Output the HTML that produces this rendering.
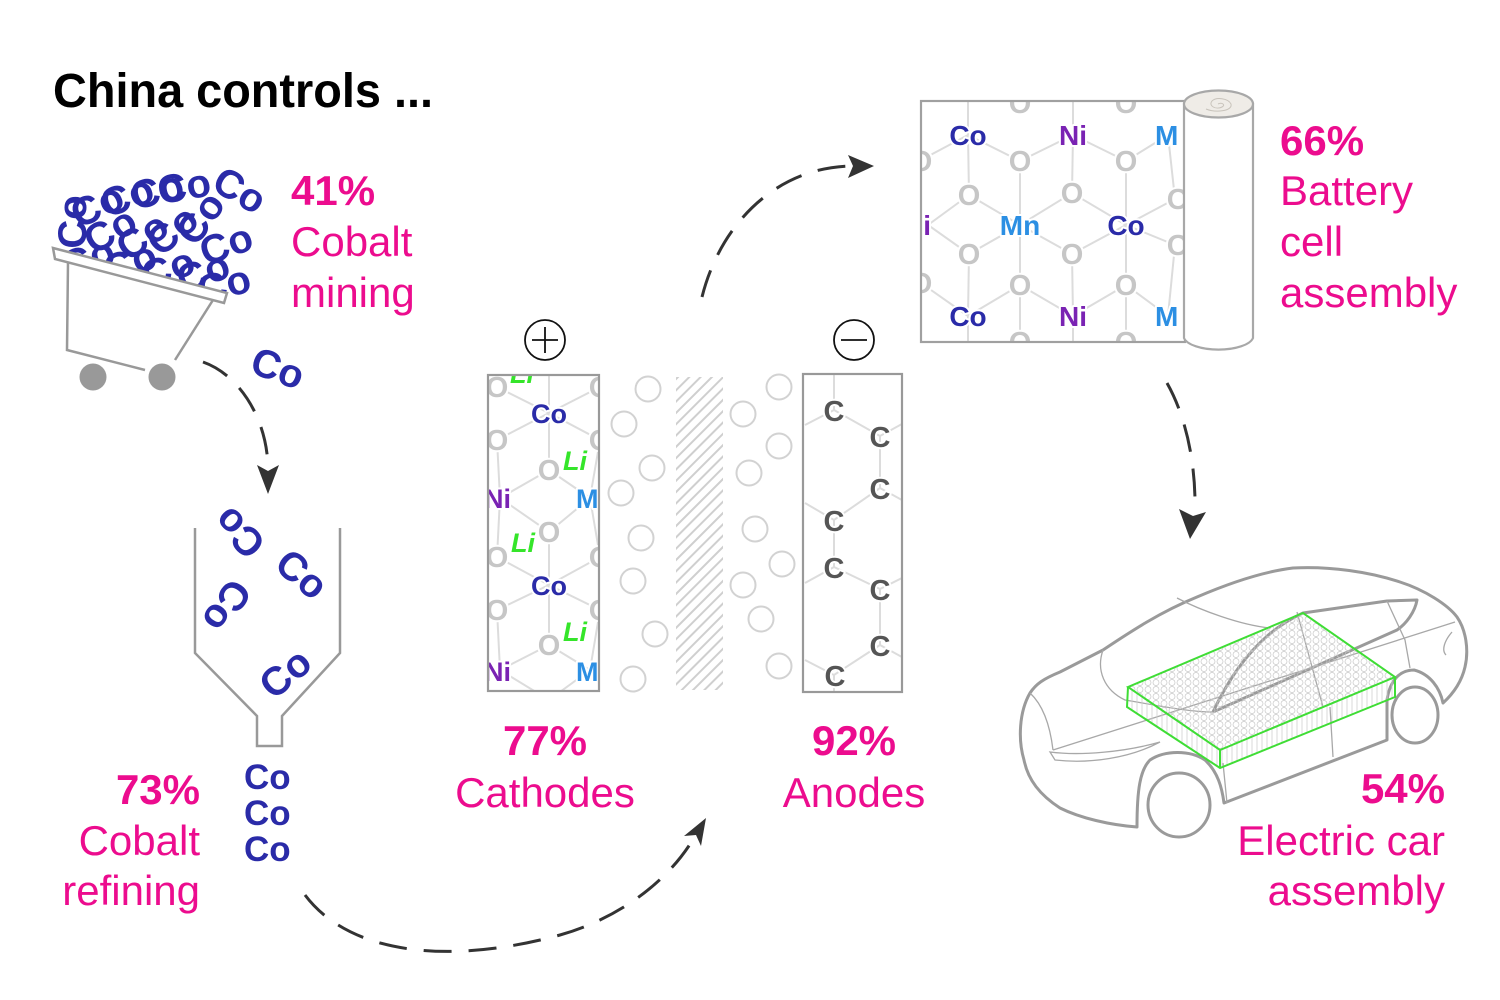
<!DOCTYPE html>
<html><head><meta charset="utf-8"><style>
html,body{margin:0;padding:0;background:#fff;}
svg{display:block;}
text{font-family:"Liberation Sans",sans-serif;}
.co{font-weight:bold;fill:#2a2ba8;font-size:35px;}
.cl{font-weight:bold;fill:#2a2ba8;font-size:40px;}
.lab{fill:#ec0c8e;font-size:42px;}
.pct{fill:#ec0c8e;font-size:42px;font-weight:bold;}
.lt{font-weight:bold;font-size:27px;stroke:#fff;stroke-width:4px;paint-order:stroke;stroke-linejoin:round;}
.o{fill:#c6c6c6;font-size:29px;}
.cB{fill:#2a2ba8;}
.ni{fill:#7a23b3;}
.mn{fill:#2c8fe3;}
.li{fill:#35e52a;font-style:italic;}
.cc{fill:#555;}
.grid{stroke:#dcdcdc;stroke-width:2;fill:none;}
.wc{fill:#fff;}
.dash{fill:none;stroke:#333;stroke-width:3;stroke-dasharray:28 17;}
.car{fill:none;stroke:#9a9a9a;stroke-width:3;stroke-linejoin:round;}
.thin{fill:none;stroke:#a8a8a8;stroke-width:1.3;}
</style></head><body>
<svg width="1500" height="1000" viewBox="0 0 1500 1000" xmlns="http://www.w3.org/2000/svg">
<defs>
 <clipPath id="cartclip"><polygon points="30,140 290,140 290,305 227,293 53,248 30,248"/></clipPath>
 <clipPath id="cath"><rect x="489" y="376" width="109" height="314"/></clipPath>
 <clipPath id="anod"><rect x="804" y="375" width="97" height="316"/></clipPath>
 <clipPath id="sheet"><rect x="922" y="102" width="261" height="239"/></clipPath>
 <pattern id="hatch" patternUnits="userSpaceOnUse" width="8" height="8" patternTransform="rotate(45)">
  <line x1="2" y1="0" x2="2" y2="8" stroke="#cfcfcf" stroke-width="2"/>
 </pattern>
 <pattern id="mesh" patternUnits="userSpaceOnUse" width="8" height="7">
  <circle cx="4" cy="3.5" r="3" fill="none" stroke="#c8c8c8" stroke-width="0.7"/>
 </pattern>
 <pattern id="vl" patternUnits="userSpaceOnUse" width="5" height="10">
  <line x1="2" y1="0" x2="2" y2="10" stroke="#cfcfcf" stroke-width="0.8"/>
 </pattern>
</defs>

<!-- Title -->
<text x="53" y="107" font-size="48" font-weight="bold" fill="#000" textLength="380" lengthAdjust="spacingAndGlyphs">China controls ...</text>

<!-- Cart cobalt cluster -->
<g clip-path="url(#cartclip)">
 <text class="cl" transform="translate(72,222) rotate(-90)" y="14" text-anchor="middle">Co</text>
 <text class="cl" transform="translate(97,205) rotate(-25)" y="14" text-anchor="middle">Co</text>
 <text class="cl" transform="translate(127,196) rotate(-20)" y="14" text-anchor="middle">Co</text>
 <text class="cl" transform="translate(157,190) rotate(-15)" y="14" text-anchor="middle">Co</text>
 <text class="cl" transform="translate(184,186) rotate(-10)" y="14" text-anchor="middle">Co</text>
 <text class="cl" transform="translate(110,230) rotate(-30)" y="14" text-anchor="middle">Co</text>
 <text class="cl" transform="translate(142,236) rotate(-35)" y="14" text-anchor="middle">Co</text>
 <text class="cl" transform="translate(172,230) rotate(-40)" y="14" text-anchor="middle">Co</text>
 <text class="cl" transform="translate(200,218) rotate(-55)" y="14" text-anchor="middle">Co</text>
 <text class="cl" transform="translate(226,244) rotate(-20)" y="14" text-anchor="middle">Co</text>
 <text class="cl" transform="translate(88,258) rotate(-20)" y="14" text-anchor="middle">Co</text>
 <text class="cl" transform="translate(130,262) rotate(-20)" y="14" text-anchor="middle">Co</text>
 <text class="cl" transform="translate(168,268) rotate(-20)" y="14" text-anchor="middle">Co</text>
 <text class="cl" transform="translate(203,272) rotate(-20)" y="14" text-anchor="middle">Co</text>
 <text class="cl" transform="translate(224,284) rotate(-15)" y="14" text-anchor="middle">Co</text>
</g>
<text class="cl" transform="translate(240,190) rotate(30)" y="14" text-anchor="middle">Co</text>
<text class="cl" transform="translate(278,368) rotate(20)" y="14" text-anchor="middle">Co</text>

<!-- Cart -->
<polygon points="53,248 227,293 224,303 55,259" fill="#fff" stroke="#999" stroke-width="2.5"/>
<polyline points="68,262 67,350 145,370" fill="none" stroke="#999" stroke-width="2.5"/>
<polyline points="175,360 213,300" fill="none" stroke="#999" stroke-width="2.5"/>
<circle cx="93" cy="377" r="13.5" fill="#999"/>
<circle cx="162" cy="377" r="13.5" fill="#999"/>

<!-- 41% Cobalt mining -->
<text class="pct" x="291" y="205">41%</text>
<text class="lab" x="291" y="256">Cobalt</text>
<text class="lab" x="291" y="307">mining</text>

<!-- Arrow cart -> funnel -->
<path class="dash" d="M203 362 C240 375 268 420 268 470"/>
<polygon points="268,494 257,465 268,471 279,465" fill="#333"/>

<!-- Funnel -->
<polyline points="195,528 195,653 257,716 257,746 282,746 282,716 340,653 340,528" fill="none" stroke="#999" stroke-width="2.5"/>
<text class="cl" transform="translate(239,533) rotate(-135)" y="14" text-anchor="middle">Co</text>
<text class="cl" transform="translate(302,574) rotate(40)" y="14" text-anchor="middle">Co</text>
<text class="cl" transform="translate(227,606) rotate(125)" y="14" text-anchor="middle">Co</text>
<text class="cl" transform="translate(285,673) rotate(-40)" y="14" text-anchor="middle">Co</text>
<text class="co" x="244" y="789" font-size="35">Co</text>
<text class="co" x="244" y="825" font-size="35">Co</text>
<text class="co" x="244" y="861" font-size="35">Co</text>

<!-- 73% Cobalt refining -->
<text class="pct" x="200" y="804" text-anchor="end">73%</text>
<text class="lab" x="200" y="855" text-anchor="end">Cobalt</text>
<text class="lab" x="200" y="905" text-anchor="end">refining</text>

<!-- Arrow funnel -> cathodes -->
<path class="dash" d="M305 895 C350 955 450 965 560 935 C620 918 670 880 695 836"/>
<polygon points="706,818 701,846 696,835 684,836" fill="#333"/>

<!-- + and - terminals -->
<circle cx="545" cy="340" r="20" fill="none" stroke="#111" stroke-width="1.8"/>
<line x1="532" y1="340" x2="558" y2="340" stroke="#111" stroke-width="1.8"/>
<line x1="545" y1="327" x2="545" y2="353" stroke="#111" stroke-width="1.8"/>
<circle cx="854" cy="340" r="20" fill="none" stroke="#111" stroke-width="1.8"/>
<line x1="841" y1="340" x2="867" y2="340" stroke="#111" stroke-width="1.8"/>

<!-- Cathode -->
<g clip-path="url(#cath)">
 <path class="grid" d="M549 375 L549 470 M497 387 L549 413 L600 387 M497 440 L549 413 L600 440 M549 470 L500 498 M549 470 L590 498 M497 440 L500 498 L497 557 M600 440 L590 498 L600 557 M500 498 L549 532 L590 498 M549 532 L549 645 M497 557 L549 585 L600 557 M497 610 L549 585 L600 610 M549 645 L500 670 M549 645 L590 670 M497 610 L500 670 M600 610 L590 670 M500 670 L549 700 L590 670"/>
 <g class="wc">
  <ellipse cx="497" cy="387" rx="10" ry="12"/><ellipse cx="600" cy="387" rx="10" ry="12"/>
  <ellipse cx="497" cy="440" rx="10" ry="12"/><ellipse cx="600" cy="440" rx="10" ry="12"/>
  <ellipse cx="549" cy="470" rx="10" ry="12"/><ellipse cx="549" cy="532" rx="10" ry="12"/>
  <ellipse cx="497" cy="557" rx="10" ry="12"/><ellipse cx="600" cy="557" rx="10" ry="12"/>
  <ellipse cx="497" cy="610" rx="10" ry="12"/><ellipse cx="600" cy="610" rx="10" ry="12"/>
  <ellipse cx="549" cy="645" rx="10" ry="12"/>
 </g>
 <text class="lt li" x="522" y="383" text-anchor="middle">Li</text>
 <text class="lt o" x="497" y="397" text-anchor="middle">O</text>
 <text class="lt o" x="600" y="397" text-anchor="middle">O</text>
 <text class="lt cB" x="549" y="423" text-anchor="middle">Co</text>
 <text class="lt o" x="497" y="450" text-anchor="middle">O</text>
 <text class="lt o" x="600" y="450" text-anchor="middle">O</text>
 <text class="lt o" x="549" y="480" text-anchor="middle">O</text>
 <text class="lt li" x="575" y="470" text-anchor="middle">Li</text>
 <text class="lt ni" x="484" y="508">Ni</text>
 <text class="lt mn" x="576" y="508">M</text>
 <text class="lt o" x="549" y="542" text-anchor="middle">O</text>
 <text class="lt li" x="523" y="552" text-anchor="middle">Li</text>
 <text class="lt o" x="497" y="567" text-anchor="middle">O</text>
 <text class="lt o" x="600" y="567" text-anchor="middle">O</text>
 <text class="lt cB" x="549" y="595" text-anchor="middle">Co</text>
 <text class="lt o" x="497" y="620" text-anchor="middle">O</text>
 <text class="lt o" x="600" y="620" text-anchor="middle">O</text>
 <text class="lt o" x="549" y="655" text-anchor="middle">O</text>
 <text class="lt li" x="575" y="641" text-anchor="middle">Li</text>
 <text class="lt ni" x="484" y="681">Ni</text>
 <text class="lt mn" x="576" y="681">M</text>
</g>
<rect x="488" y="375" width="111" height="316" fill="none" stroke="#999" stroke-width="2.2"/>

<!-- electrolyte circles -->
<g fill="none" stroke="#d2d2d2" stroke-width="2">
 <circle cx="648" cy="389" r="12.5"/><circle cx="624" cy="424" r="12.5"/><circle cx="652" cy="468" r="12.5"/>
 <circle cx="621" cy="493" r="12.5"/><circle cx="641" cy="538" r="12.5"/><circle cx="633" cy="581" r="12.5"/>
 <circle cx="655" cy="634" r="12.5"/><circle cx="633" cy="679" r="12.5"/>
 <circle cx="779" cy="387" r="12.5"/><circle cx="743" cy="414" r="12.5"/><circle cx="779" cy="446" r="12.5"/>
 <circle cx="749" cy="473" r="12.5"/><circle cx="755" cy="529" r="12.5"/><circle cx="782" cy="564" r="12.5"/>
 <circle cx="743" cy="585" r="12.5"/><circle cx="761" cy="619" r="12.5"/><circle cx="779" cy="666" r="12.5"/>
</g>
<!-- separator -->
<rect x="676" y="377" width="47" height="313" fill="url(#hatch)"/>

<!-- Anode -->
<g clip-path="url(#anod)">
 <path class="grid" d="M834 375 L834 410 L805 425 M834 410 L880 436 L902 424 M880 436 L880 488 L902 500 M880 488 L834 520 L805 503 M834 520 L834 567 L805 583 M834 567 L880 589 L902 578 M880 589 L880 645 L902 657 M880 645 L834 675 L805 660 M834 675 L834 700"/>
 <g class="lt cc" text-anchor="middle" style="font-size:29px">
  <text x="834" y="421">C</text>
  <text x="880" y="447">C</text>
  <text x="880" y="499">C</text>
  <text x="834" y="531">C</text>
  <text x="834" y="578">C</text>
  <text x="880" y="600">C</text>
  <text x="880" y="656">C</text>
  <text x="835" y="686">C</text>
 </g>
</g>
<rect x="803" y="374" width="99" height="318" fill="none" stroke="#999" stroke-width="2.2"/>

<!-- 77% Cathodes / 92% Anodes -->
<text class="pct" x="545" y="755" text-anchor="middle">77%</text>
<text class="lab" x="545" y="807" text-anchor="middle">Cathodes</text>
<text class="pct" x="854" y="755" text-anchor="middle">92%</text>
<text class="lab" x="854" y="807" text-anchor="middle">Anodes</text>

<!-- Arrow cathode -> sheet -->
<path class="dash" d="M702 297 C720 225 775 168 850 166"/>
<polygon points="874,166 848,155 853,166 848,178" fill="#333"/>

<!-- Battery sheet -->
<rect x="921" y="101" width="264" height="241" fill="#fff"/>
<g clip-path="url(#sheet)">
 <path class="grid" d="M968 100 L968 135 L1020 161 L1073 135 L1126 161 L1168 135 M1073 100 L1073 135 L1072 193 M968 135 L969 195 L1020 225 L1072 193 L1126 225 L1175 199 M1020 161 L1020 225 M1126 161 L1126 225 M921 160 L968 135 M969 195 L928 225 L969 254 M1020 225 L969 254 L968 316 M1020 225 L1072 254 L1126 225 L1175 245 M1020 225 L1020 285 L968 316 M1126 225 L1126 285 M1072 254 L1073 316 L1020 285 M1073 316 L1126 285 L1168 316 M968 316 L968 345 M1073 316 L1073 345 M1020 285 L1020 345 M1126 285 L1126 345 M921 283 L968 316 M1168 135 L1175 199 M1175 245 L1168 316"/>
 <g class="wc">
  <ellipse cx="1020" cy="103" rx="11" ry="12"/><ellipse cx="1126" cy="103" rx="11" ry="12"/>
  <ellipse cx="1020" cy="161" rx="11" ry="12"/><ellipse cx="1126" cy="161" rx="11" ry="12"/>
  <ellipse cx="921" cy="161" rx="11" ry="12"/>
  <ellipse cx="969" cy="195" rx="11" ry="12"/><ellipse cx="1072" cy="193" rx="11" ry="12"/><ellipse cx="1178" cy="199" rx="11" ry="12"/>
  <ellipse cx="969" cy="254" rx="11" ry="12"/><ellipse cx="1072" cy="254" rx="11" ry="12"/><ellipse cx="1178" cy="245" rx="11" ry="12"/>
  <ellipse cx="921" cy="283" rx="11" ry="12"/>
  <ellipse cx="1020" cy="285" rx="11" ry="12"/><ellipse cx="1126" cy="285" rx="11" ry="12"/>
  <ellipse cx="1020" cy="342" rx="11" ry="12"/><ellipse cx="1126" cy="342" rx="11" ry="12"/>
 </g>
 <g class="lt" text-anchor="middle" style="font-size:28px">
  <text class="o" x="1020" y="113">O</text><text class="o" x="1126" y="113">O</text>
  <text class="cB" x="968" y="145">Co</text>
  <text class="ni" x="1073" y="145">Ni</text>
  <text class="mn" x="1155" y="145" text-anchor="start">M</text>
  <text class="o" x="1020" y="171">O</text><text class="o" x="1126" y="171">O</text>
  <text class="o" x="921" y="171">O</text>
  <text class="o" x="969" y="205">O</text><text class="o" x="1072" y="203">O</text><text class="o" x="1178" y="209">O</text>
  <text class="ni" x="917" y="235">Ni</text>
  <text class="mn" x="1020" y="235">Mn</text>
  <text class="cB" x="1126" y="235">Co</text>
  <text class="o" x="969" y="264">O</text><text class="o" x="1072" y="264">O</text><text class="o" x="1178" y="255">O</text>
  <text class="o" x="921" y="293">O</text>
  <text class="o" x="1020" y="295">O</text><text class="o" x="1126" y="295">O</text>
  <text class="cB" x="968" y="326">Co</text>
  <text class="ni" x="1073" y="326">Ni</text>
  <text class="mn" x="1155" y="326" text-anchor="start">M</text>
  <text class="o" x="1020" y="352">O</text><text class="o" x="1126" y="352">O</text>
 </g>
</g>
<rect x="921" y="101" width="264" height="241" fill="none" stroke="#a0a0a0" stroke-width="2.2"/>
<!-- roll -->
<path d="M1184 104 L1184 338 A35 14 0 0 0 1253 338 L1253 104 Z" fill="#fff" stroke="#a8a8a8" stroke-width="2.2"/>
<ellipse cx="1218.5" cy="104" rx="34.5" ry="13.5" fill="#efece7" stroke="#a8a8a8" stroke-width="2.2"/>
<path d="M1218 104 C1222 102 1226 105 1222 107 C1216 110 1208 106 1212 101 C1216 97 1228 98 1231 104 C1233 111 1216 113 1206 109" fill="none" stroke="#c8c3bb" stroke-width="1"/>

<!-- 66% Battery cell assembly -->
<text class="pct" x="1280" y="155">66%</text>
<text class="lab" x="1280" y="205">Battery</text>
<text class="lab" x="1280" y="256">cell</text>
<text class="lab" x="1280" y="307">assembly</text>

<!-- Arrow sheet -> car -->
<path class="dash" d="M1167 383 C1185 415 1196 460 1195 512"/>
<polygon points="1190,539 1179,509 1193,516 1206,512" fill="#333"/>

<!-- Car -->
<path class="car" d="M1024 760 C1018 740 1019 712 1030 693 C1036 684 1043 679 1060 672 L1103 650 C1130 632 1160 612 1197 597 C1225 585 1260 572 1293 568 C1330 566 1370 572 1400 582 C1425 590 1448 605 1457 617 C1466 630 1469 650 1465 667 C1462 680 1455 692 1443 703 C1440 688 1430 674 1414 670 C1400 670 1390 680 1387 700 L1387 740 L1224 803 C1222 788 1218 772 1205 760 C1190 750 1165 750 1150 760 C1140 770 1137 790 1137 827 C1110 825 1080 818 1060 808 C1040 795 1028 780 1024 760 Z"/>
<ellipse class="car" cx="1179" cy="805" rx="31" ry="32"/>
<ellipse class="car" cx="1415" cy="715" rx="23" ry="28"/>
<path class="car" d="M1213 712 C1235 665 1265 630 1303 613 L1387 601 L1417 600 C1415 612 1406 624 1397 630 L1213 712"/>
<path class="thin" d="M1177 598 C1200 610 1240 625 1270 628"/>
<path class="thin" d="M1387 601 L1405 640 L1410 668"/>
<path class="thin" d="M1053 750 L1455 622"/>
<path class="thin" d="M1103 650 C1096 670 1104 690 1125 700 C1160 706 1190 712 1213 712"/>
<path class="thin" d="M1050 752 C1080 756 1125 752 1160 742 C1130 758 1090 764 1055 760 Z"/>
<path class="thin" d="M1030 693 C1043 705 1050 725 1053 750"/>
<path class="thin" d="M1223 763 L1227 803 M1330 707 L1333 757 M1297 612 L1323 707"/>
<path class="thin" d="M1452 632 C1445 640 1441 650 1446 655"/>
<!-- Battery pack -->
<polygon points="1128,687 1303,613 1395,677 1220,750" fill="url(#mesh)"/>
<polygon points="1128,687 1220,750 1220,768 1127,707" fill="url(#vl)"/>
<polygon points="1220,750 1395,677 1395,697 1220,768" fill="url(#vl)"/>
<g fill="none" stroke="#3fdd35" stroke-width="2">
 <polygon points="1128,687 1303,613 1395,677 1220,750"/>
 <polyline points="1128,687 1127,707 1220,768 1395,697 1395,677"/>
 <line x1="1220" y1="750" x2="1220" y2="768"/>
</g>

<!-- 54% Electric car assembly -->
<text class="pct" x="1445" y="803" text-anchor="end">54%</text>
<text class="lab" x="1445" y="855" text-anchor="end">Electric car</text>
<text class="lab" x="1445" y="905" text-anchor="end">assembly</text>
</svg>
</body></html>
